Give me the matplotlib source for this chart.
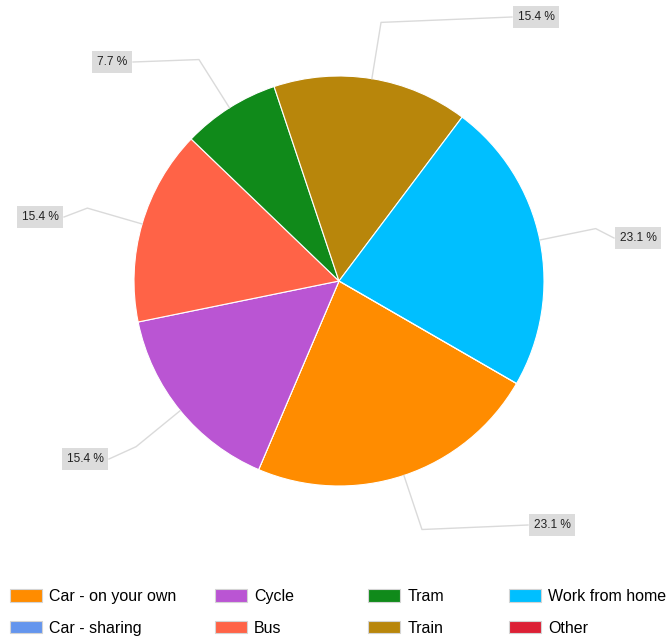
import numpy as np
import matplotlib.pyplot as plt

# commuting modes, share of responses (13 answers)
modes = ["Car - on your own", "Car - sharing", "Cycle", "Bus",
         "Tram", "Train", "Work from home", "Other"]
counts = [3, 0, 2, 2, 1, 2, 3, 0]
colours = ["#FF8C00", "#6495ED", "#BA55D3", "#FF6347",
           "#108A1A", "#B8860B", "#00BFFF", "#DC2035"]

W, H = 671, 641
plt.rcParams['font.family'] = ['Liberation Sans', 'DejaVu Sans']

fig = plt.figure(figsize=(W / 100, H / 100), dpi=100)
ax = fig.add_axes([0, 0, 1, 1])

cx, cy, r = 339, H - 281, 205
wedges, _ = ax.pie(counts, colors=colours, startangle=-30, counterclock=False,
                   radius=r, center=(cx, cy),
                   wedgeprops=dict(edgecolor="white", linewidth=0.8))
ax.set_xlim(0, W)
ax.set_ylim(0, H)
ax.axis("off")

# where the label boxes sit (pixel coords, top-left origin)
box_pos = {0: (552, 525), 2: (85, 459), 3: (40, 217),
           4: (112, 62), 5: (536, 17), 6: (638, 238)}
half_w = {0: 24, 2: 24, 3: 24, 4: 21, 5: 24, 6: 24}

total = sum(counts)
for i, w in enumerate(wedges):
    if counts[i] == 0:
        continue
    a = np.deg2rad((w.theta1 + w.theta2) / 2)
    x0, y0 = cx + r * np.cos(a), cy + r * np.sin(a)
    x1, y1 = cx + 262 * np.cos(a), cy + 262 * np.sin(a)
    bx, by = box_pos[i]
    by = H - by
    ex = bx - half_w[i] if bx > x1 else bx + half_w[i]
    ax.plot([x0, x1, ex], [y0, y1, by], color="#DADADA", lw=1, zorder=1)
    pct = 100 * counts[i] / total
    ax.text(bx, by, f"{pct:.1f} %", ha="center", va="center", fontsize=8.6,
            color="#222222",
            bbox=dict(boxstyle="square,pad=0.42", fc="#DCDCDC", ec="none"))

# legend: four columns of two entries
col_x = [10, 215, 368, 509]
for c in range(4):
    leg = ax.legend(wedges[2 * c:2 * c + 2], modes[2 * c:2 * c + 2],
                    loc="upper left", bbox_to_anchor=(col_x[c] / W, 1 - 589 / H),
                    bbox_transform=fig.transFigure, frameon=False,
                    fontsize=11.5, handlelength=2.0, handleheight=0.8,
                    handletextpad=0.45, labelspacing=1.05,
                    borderpad=0, borderaxespad=0)
    for p in leg.get_patches():
        p.set_edgecolor("#D4D4D4")
        p.set_linewidth(0.8)
    if c < 3:
        ax.add_artist(leg)

fig.savefig("out.png", dpi=100)
